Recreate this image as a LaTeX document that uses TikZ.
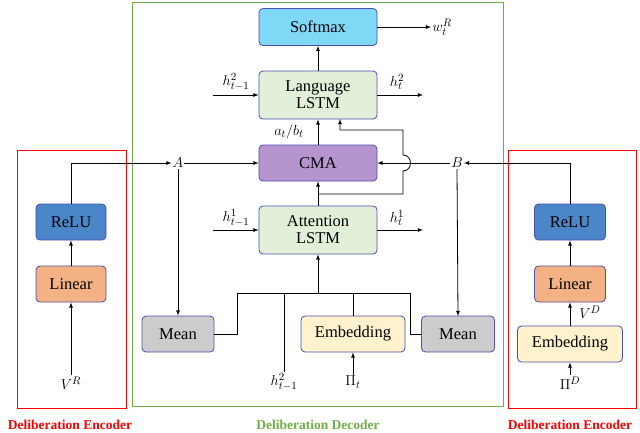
\documentclass[tikz,border=0pt]{standalone}
\usepackage{fontspec}
\setmainfont{Liberation Serif}
\begin{document}
\begin{tikzpicture}[x=1pt,y=-1pt,
 box/.style={draw=blue!40!gray,rounded corners=4pt,line width=0.8pt,minimum width=#1,align=center,inner sep=1pt,font=\fontsize{16.5}{17}\selectfont},
 arr/.style={-latex,line width=0.8pt},
 ln/.style={line width=0.8pt},
 lab/.style={inner sep=1pt,font=\fontsize{15}{16}\selectfont}]
\useasboundingbox (0,0) rectangle (640,432);
\draw[line width=1pt,draw={rgb,255:red,112;green,173;blue,71}] (132,2) rectangle (503,406);
\draw[red,line width=1pt] (17,150) rectangle (126,408);
\draw[red,line width=1pt] (508,150) rectangle (636,408);
\definecolor{sm}{RGB}{128,216,247}\definecolor{lg}{RGB}{226,240,217}
\definecolor{cm}{RGB}{182,149,207}\definecolor{gy}{RGB}{204,204,204}
\definecolor{em}{RGB}{255,242,204}\definecolor{rl}{RGB}{74,134,200}
\definecolor{li}{RGB}{244,177,131}
\node[box=118pt,minimum height=37pt,fill=sm] (soft) at (318,27) {Softmax};
\node[box=118pt,minimum height=48pt,fill=lg] (lang) at (318,95) {Language\\LSTM};
\node[box=118pt,minimum height=36pt,fill=cm] (cma) at (318,163) {CMA};
\node[box=118pt,minimum height=48pt,fill=lg] (att) at (318,230) {Attention\\LSTM};
\node[box=72pt,minimum height=36pt,fill=gy] (m1) at (178,334) {Mean};
\node[box=73pt,minimum height=36pt,fill=gy] (m2) at (458,334) {Mean};
\node[box=104pt,minimum height=36pt,fill=em] (emb) at (353,334) {Embedding};
\node[box=70pt,minimum height=36pt,fill=rl] (r1) at (71,222) {ReLU};
\node[box=70pt,minimum height=36pt,fill=li] (l1) at (71,284) {Linear};
\node[box=71pt,minimum height=36pt,fill=rl] (r2) at (570,222) {ReLU};
\node[box=71pt,minimum height=36pt,fill=li] (l2) at (570,284) {Linear};
\node[box=105pt,minimum height=36pt,fill=em] (e2) at (570,344) {Embedding};
\node[lab] (w) at (442,27) {$w_t^R$};
\node[lab] (A) at (178,163) {$A$};
\node[lab] (B) at (457,163) {$B$};
\node[lab] at (236,82) {$h_{t-1}^2$};
\node[lab] at (397,82) {$h_{t}^2$};
\node[lab] at (236,218) {$h_{t-1}^1$};
\node[lab] at (397,218) {$h_{t}^1$};
\node[lab] at (289,132) {$a_t/b_t$};
\node[lab] (h2) at (284,382) {$h_{t-1}^2$};
\node[lab] (pi) at (353,382) {$\Pi_t$};
\node[lab] (vr) at (71,383) {$V^R$};
\node[lab] (pd) at (570,383) {$\Pi^D$};
\node[lab] at (590,312) {$V^D$};
\node[font=\bfseries\fontsize{13.5}{14}\selectfont,text=red] at (70,425) {Deliberation Encoder};
\node[font=\bfseries\fontsize{13.5}{14}\selectfont,text=red] at (570,425) {Deliberation Encoder};
\node[font=\bfseries\fontsize{13.5}{14}\selectfont,text={rgb,255:red,112;green,173;blue,71}] at (318,425) {Deliberation Decoder};
\coordinate (c1) at (213,95); \coordinate (c2) at (423,95);
\coordinate (c3) at (213,230); \coordinate (c4) at (423,230);
\draw[arr] (soft) -- (w);
\draw[arr] (lang) -- (soft);
\draw[arr] (c1) -- (lang); \draw[arr] (lang.east) -- (c2);
\draw[arr] (c3) -- (att); \draw[arr] (att.east) -- (c4);
\draw[arr] (cma) -- (lang);
\draw[arr] (att) -- (cma);
\draw[arr] (A) -- (cma);
\draw[arr] (B) -- (cma);
\draw[arr] (318,194) -- (403,194) -- (403,171) .. controls (413,171) and (413,155) .. (403,155) -- (403,130) -- (340,130) -- (340,119);
\draw[arr] (r1) |- (A);
\draw[arr] (r2) |- (B);
\draw[arr] (l1) -- (r1); \draw[arr] (vr) -- (l1);
\draw[arr] (l2) -- (r2); \draw[arr] (e2) -- (l2); \draw[arr] (pd) -- (e2);
\draw[arr] (A) -- (m1); \draw[arr] (B.south) -- (458,316);
\draw[ln] (m1.east) -- (237,334) -- (237,293) -- (410,293) -- (410,334) -- (m2.west);
\draw[ln] (h2) -- (284,293);
\draw[ln] (emb) -- (353,293);
\draw[arr] (318,293) -- (att);
\draw[arr] (pi) -- (emb);
\end{tikzpicture}
\end{document}
